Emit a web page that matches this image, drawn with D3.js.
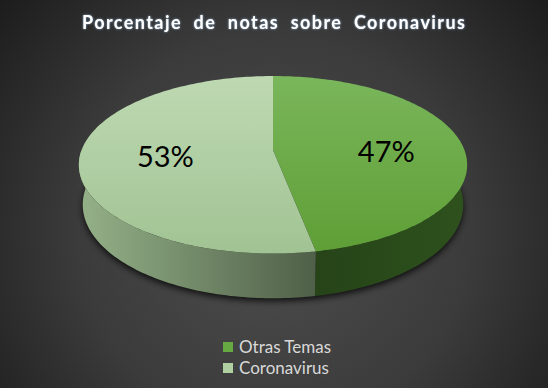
<!DOCTYPE html>
<html>
<head>
<meta charset="utf-8">
<script src="https://cdn.jsdelivr.net/npm/d3@7"></script>
<style>
  html, body { margin: 0; padding: 0; background: #2b2b2b; }
  svg { display: block; }
</style>
</head>
<body>
<div id="chart"></div>
<script>
const categories = ["Otras Temas", "Coronavirus"];
const values = [47, 53];
const labels = ["47%", "53%"];
const title = "Porcentaje de notas sobre Coronavirus";

const width = 548,
  height = 388;

// colours per slice: top face (far, near), wall (left, right)
const topColors = [
  ["#7ab65b", "#5e9e35"],
  ["#bed9b2", "#a1c393"],
];
const wallColors = [
  ["#264418", "#2e511d"],
  ["#94b188", "#4e5e47"],
];
const legendColors = ["#66a943", "#b0d0a2"];

const svg = d3
  .select("#chart")
  .append("svg")
  .attr("width", width)
  .attr("height", height);

const defs = svg.append("defs");

const bg = defs
  .append("radialGradient")
  .attr("id", "bg")
  .attr("gradientUnits", "userSpaceOnUse")
  .attr("cx", 274)
  .attr("cy", 230)
  .attr("r", 360);
bg.append("stop").attr("offset", 0).attr("stop-color", "#4e4e4e");
bg.append("stop").attr("offset", 0.55).attr("stop-color", "#3b3b3b");
bg.append("stop").attr("offset", 1).attr("stop-color", "#1c1c1c");

svg
  .append("rect")
  .attr("width", width)
  .attr("height", height)
  .attr("fill", "url(#bg)");

// simple perspective camera for the 3d pie
const cam = {
  cx: 273,
  cy: 150,
  f: 1024,
  D: 5.35,
  tilt: (26.8 * Math.PI) / 180,
  h: 0.235,
};

function project(theta, r, y) {
  const X = r * Math.sin(theta);
  const Z = -r * Math.cos(theta);
  const s = Math.sin(cam.tilt),
    c = Math.cos(cam.tilt);
  const up = y * c - Z * s;
  const depth = cam.D - (y * s + Z * c);
  return [cam.cx + (cam.f * X) / depth, cam.cy - (cam.f * up) / depth];
}

const pie = d3.pie().sort(null).value((d) => d);
const arcs = pie(values);

const line = d3.line();

function arcPoints(a0, a1, y) {
  const n = Math.max(2, Math.ceil(Math.abs(a1 - a0) / 0.02));
  return d3.range(n + 1).map((i) => project(a0 + ((a1 - a0) * i) / n, 1, y));
}

// shadow under the pie
const blur = defs.append("filter").attr("id", "blur").attr("x", -0.2).attr("y", -0.2).attr("width", 1.4).attr("height", 1.4);
blur.append("feGaussianBlur").attr("stdDeviation", 3);

svg
  .append("path")
  .attr("d", line(arcPoints(0, 2 * Math.PI, -cam.h)) + "Z")
  .attr("fill", "#000")
  .attr("opacity", 0.75)
  .attr("transform", "translate(0,3)")
  .attr("filter", "url(#blur)");

// gradients
arcs.forEach((d, i) => {
  const tg = defs
    .append("linearGradient")
    .attr("id", "top" + i)
    .attr("gradientUnits", "userSpaceOnUse")
    .attr("x1", 0)
    .attr("x2", 0)
    .attr("y1", 76)
    .attr("y2", 255);
  tg.append("stop").attr("offset", 0).attr("stop-color", topColors[i][0]);
  tg.append("stop").attr("offset", 1).attr("stop-color", topColors[i][1]);

  const wg = defs
    .append("linearGradient")
    .attr("id", "wall" + i)
    .attr("gradientUnits", "userSpaceOnUse")
    .attr("x1", i === 0 ? 321 : 80)
    .attr("x2", i === 0 ? 467 : 321)
    .attr("y1", 0)
    .attr("y2", 0);
  wg.append("stop").attr("offset", 0).attr("stop-color", wallColors[i][0]);
  wg.append("stop").attr("offset", 1).attr("stop-color", wallColors[i][1]);
});

// walls (front half only)
arcs.forEach((d, i) => {
  const a0 = Math.max(d.startAngle, Math.PI / 2);
  const a1 = Math.min(d.endAngle, (3 * Math.PI) / 2);
  if (a1 <= a0) return;
  const pts = arcPoints(a0, a1, 0).concat(arcPoints(a1, a0, -cam.h));
  svg
    .append("path")
    .attr("d", line(pts) + "Z")
    .attr("fill", "url(#wall" + i + ")");
});

// top faces
arcs.forEach((d, i) => {
  const pts = [project(0, 0, 0)].concat(arcPoints(d.startAngle, d.endAngle, 0));
  svg
    .append("path")
    .attr("d", line(pts) + "Z")
    .attr("fill", "url(#top" + i + ")");
});

// data labels
const labelR = [0.6, 0.56];
svg
  .selectAll(".label")
  .data(arcs)
  .join("text")
  .attr("class", "label")
  .attr("x", (d, i) => project((d.startAngle + d.endAngle) / 2, labelR[i], 0)[0])
  .attr("y", (d, i) => project((d.startAngle + d.endAngle) / 2, labelR[i], 0)[1])
  .attr("dy", (d, i) => (i === 0 ? 17 : 12))
  .attr("text-anchor", "middle")
  .attr("font-family", "Lato, 'Open Sans', sans-serif")
  .attr("font-size", 29)
  .attr("fill", "#000")
  .text((d, i) => labels[i]);

// title
const glow = defs.append("filter").attr("id", "glow").attr("x", -0.1).attr("y", -0.5).attr("width", 1.2).attr("height", 2);
glow
  .append("feDropShadow")
  .attr("dx", 0)
  .attr("dy", 0)
  .attr("stdDeviation", 0.9)
  .attr("flood-color", "#8fb8e0")
  .attr("flood-opacity", 0.9);

svg
  .append("text")
  .attr("x", 82)
  .attr("y", 29)
  .attr("textLength", 383)
  .attr("lengthAdjust", "spacing")
  .attr("font-family", "Lato, 'Open Sans', sans-serif")
  .attr("font-weight", "bold")
  .attr("font-size", 18)
  .attr("fill", "#fff")
  .attr("filter", "url(#glow)")
  .style("white-space", "pre")
  .text(title.replace(/ /g, "  "));

// legend
const legend = svg
  .selectAll(".legend")
  .data(categories)
  .join("g")
  .attr("class", "legend")
  .attr("transform", (_, i) => `translate(223,${342 + i * 21})`);

legend
  .append("rect")
  .attr("width", 10)
  .attr("height", 10)
  .attr("fill", (_, i) => legendColors[i]);

legend
  .append("text")
  .attr("x", 16)
  .attr("y", 11)
  .attr("font-family", "Lato, 'Open Sans', sans-serif")
  .attr("font-size", 17)
  .attr("fill", "#d9d9d9")
  .text((d) => d);
</script>
</body>
</html>
